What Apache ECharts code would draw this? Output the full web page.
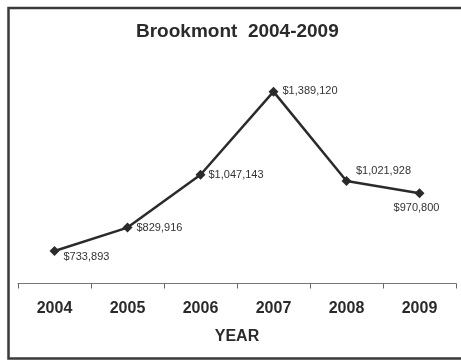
<!DOCTYPE html>
<html>
<head>
<meta charset="utf-8">
<script src="https://cdn.jsdelivr.net/npm/echarts@6/dist/echarts.min.js"></script>
<style>
  html, body { margin: 0; padding: 0; background: #fff; }
  #chart { width: 461px; height: 362px; }
</style>
</head>
<body>
<div id="chart"></div>
<script>
// Yearly totals for Brookmont
const years = ['2004', '2005', '2006', '2007', '2008', '2009'];
const totals = [733893, 829916, 1047143, 1389120, 1021928, 970800];

// Where each value label sits relative to its point
const labelPlacement = [
  { position: 'right', offset: [0, 6] },
  { position: 'right', offset: [0, 0] },
  { position: 'right', offset: [-1, 0] },
  { position: 'right', offset: [0, -1] },
  { position: 'top', offset: [37, 5] },
  { position: 'bottom', offset: [-3, 0] }
];

const fmt = v => '$' + v.toLocaleString('en-US');

const seriesData = totals.map((v, i) => ({
  value: v,
  label: {
    position: labelPlacement[i].position,
    offset: labelPlacement[i].offset
  }
}));

const FONT = 'Arial, Liberation Sans, sans-serif';

const chart = echarts.init(document.getElementById('chart'), null, { renderer: 'canvas' });
chart.setOption({
  animation: false,
  backgroundColor: '#fff',
  title: {
    text: 'Brookmont  2004-2009',
    left: 136,
    top: 22,
    padding: 0,
    textStyle: { fontFamily: FONT, fontWeight: 'bold', fontSize: 19, color: '#2a2a2a' }
  },
  grid: { left: 18, right: 5, top: 89, bottom: 78.5, containLabel: false },
  xAxis: {
    type: 'category',
    data: years,
    boundaryGap: true,
    name: 'YEAR',
    nameLocation: 'middle',
    nameGap: 45,
    nameTextStyle: { fontFamily: FONT, fontWeight: 'bold', fontSize: 16, color: '#2a2a2a' },
    axisLine: { lineStyle: { color: '#777', width: 1 } },
    axisTick: { show: true, length: 5, lineStyle: { color: '#666' } },
    axisLabel: { margin: 17, fontFamily: FONT, fontWeight: 'bold', fontSize: 16, color: '#2a2a2a' },
    splitLine: { show: false }
  },
  yAxis: {
    type: 'value',
    min: 600000,
    max: 1400000,
    show: false,
    splitLine: { show: false }
  },
  series: [{
    type: 'line',
    data: seriesData,
    symbol: 'diamond',
    symbolSize: 10,
    lineStyle: { color: '#2b2b2b', width: 2.5 },
    itemStyle: { color: '#2b2b2b' },
    label: {
      show: true,
      formatter: p => fmt(p.value),
      fontFamily: FONT,
      fontSize: 11,
      color: '#333',
      distance: 4
    }
  }],
  graphic: [{
    type: 'rect',
    shape: { x: 8.5, y: 8, width: 470, height: 350.5 },
    style: { fill: 'none', stroke: '#3a3a3a', lineWidth: 2.5 },
    silent: true
  }]
});
</script>
</body>
</html>
